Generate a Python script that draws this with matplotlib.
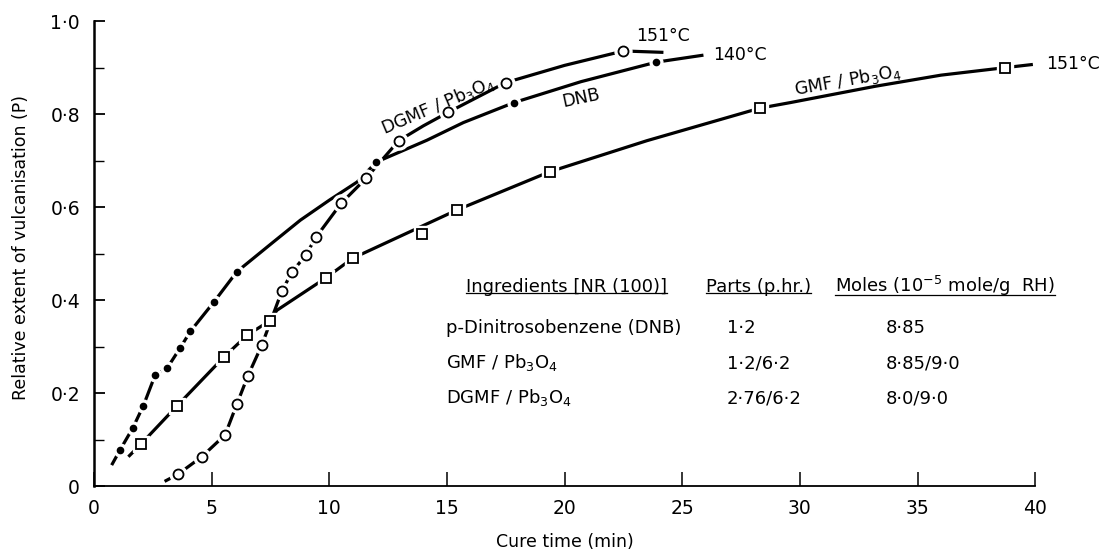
import numpy as np
import matplotlib
matplotlib.use('Agg')
import matplotlib.pyplot as plt
from matplotlib.ticker import MultipleLocator, FuncFormatter
from matplotlib.lines import Line2D

plt.rcParams['font.family'] = ['DejaVu Sans']
plt.rcParams['mathtext.default'] = 'regular'

#------------------------------------------------------------------------------#
# values

# p-dinitrosobenzene, 140 C (filled dots)
dnb_x = [1.1, 1.65, 2.1, 2.6, 3.1, 3.66, 4.1, 5.08, 6.07, 12.0, 17.85, 23.9]
dnb_y = [0.077, 0.125, 0.173, 0.239, 0.253, 0.297, 0.333, 0.395, 0.461, 0.697, 0.825, 0.912]
dnb_line_x = [0.75, 1.1, 1.65, 2.1, 2.6, 3.1, 3.66, 4.1, 5.08, 6.07, 7.5, 8.77, 10.0,
              11.18, 12.0, 14.15, 15.7, 17.85, 20.7, 23.9, 25.9]
dnb_line_y = [0.045, 0.077, 0.125, 0.173, 0.239, 0.253, 0.297, 0.333, 0.395, 0.461, 0.52,
              0.572, 0.615, 0.654, 0.697, 0.744, 0.782, 0.825, 0.87, 0.912, 0.927]

# DGMF / Pb3O4, 151 C (open circles)
dgmf_x = [3.56, 4.58, 5.57, 6.07, 6.54, 7.13, 7.98, 8.41, 9.0, 9.43, 10.5, 11.56,
          12.95, 15.05, 17.5, 22.5]
dgmf_y = [0.025, 0.063, 0.11, 0.176, 0.237, 0.303, 0.419, 0.46, 0.497, 0.535, 0.608,
          0.662, 0.743, 0.804, 0.868, 0.936]
dgmf_line_x = [3.0, 3.56, 4.58, 5.57, 6.07, 6.54, 7.13, 7.98, 8.41, 9.0, 9.43, 10.5,
               11.56, 12.95, 14.0, 15.05, 17.5, 20.0, 22.5, 24.2]
dgmf_line_y = [0.01, 0.025, 0.063, 0.11, 0.176, 0.237, 0.303, 0.419, 0.46, 0.497, 0.535,
               0.608, 0.662, 0.743, 0.775, 0.804, 0.868, 0.905, 0.936, 0.933]

# GMF / Pb3O4, 151 C (open squares)
gmf_x = [1.99, 3.52, 5.53, 6.52, 7.49, 9.86, 10.99, 13.94, 15.43, 19.36, 28.3, 38.7]
gmf_y = [0.09, 0.172, 0.278, 0.325, 0.356, 0.448, 0.49, 0.543, 0.594, 0.676, 0.813, 0.9]
gmf_line_x = [1.46, 1.99, 3.52, 5.53, 6.52, 7.49, 7.77, 9.86, 10.99, 15.43, 19.36,
              23.5, 28.3, 29.6, 33.2, 36.0, 38.7, 39.9]
gmf_line_y = [0.063, 0.09, 0.172, 0.278, 0.325, 0.356, 0.378, 0.448, 0.49, 0.594, 0.676,
              0.743, 0.813, 0.825, 0.86, 0.884, 0.9, 0.907]

# inset table
tab_header = ['Ingredients [NR (100)]', 'Parts (p.hr.)', 'Moles (10$^{-5}$ mole/g  RH)']
tab_names = ['p-Dinitrosobenzene (DNB)', 'GMF / Pb$_3$O$_4$', 'DGMF / Pb$_3$O$_4$']
tab_parts = ['1·2', '1·2/6·2', '2·76/6·2']
tab_moles = ['8·85', '8·85/9·0', '8·0/9·0']

#------------------------------------------------------------------------------#

fig = plt.figure(figsize=(11.06, 5.54), dpi=100)
ax = fig.add_axes([0.085, 0.1227, 0.851, 0.839])

def draw_series(lx, ly, mx, my, marker, ms, filled):
    ax.plot(lx, ly, color='black', lw=2.3, solid_capstyle='butt', zorder=2)
    # white halo leaves the little gap round each marker
    ax.plot(mx, my, ls='none', marker=marker, ms=ms + 5, mfc='white',
            mec='white', zorder=3)
    ax.plot(mx, my, ls='none', marker=marker, ms=ms,
            mfc='black' if filled else 'white', mec='black', mew=1.3, zorder=4)

draw_series(dnb_line_x, dnb_line_y, dnb_x, dnb_y, 'o', 4.2, True)
draw_series(gmf_line_x, gmf_line_y, gmf_x, gmf_y, 's', 6.5, False)
draw_series(dgmf_line_x, dgmf_line_y, dgmf_x, dgmf_y, 'o', 7.2, False)

ax.set_xlim(0, 40)
ax.set_ylim(0, 1.0)
for s in ['top', 'right']:
    ax.spines[s].set_visible(False)
ax.spines['left'].set_linewidth(1.8)
ax.spines['bottom'].set_linewidth(1.3)

ax.xaxis.set_major_locator(MultipleLocator(5))
ax.yaxis.set_major_locator(MultipleLocator(0.2))
ax.yaxis.set_minor_locator(MultipleLocator(0.1))
ax.tick_params(axis='x', which='major', direction='in', length=10, width=1.1,
               labelsize=13.5, pad=9)
ax.tick_params(axis='y', which='major', direction='in', length=8, width=1.3,
               labelsize=13.5, pad=10)
ax.tick_params(axis='y', which='minor', direction='in', length=7, width=1.0)

fmt = lambda v, pos: '0' if abs(v) < 1e-9 else ('%.1f' % v).replace('.', '·')
ax.yaxis.set_major_formatter(FuncFormatter(fmt))
ax.xaxis.set_major_formatter(FuncFormatter(lambda v, pos: '%d' % v))

ax.set_xlabel('Cure time (min)', fontsize=12.5)
ax.set_ylabel('Relative extent of vulcanisation (P)', fontsize=12.5)
ax.xaxis.set_label_coords(0.5, -0.1)
ax.yaxis.set_label_coords(-0.068, 0.514)

#------------------------------------------------------------------------------#
# curve labels

ax.text(14.6, 0.818, 'DGMF / Pb$_3$O$_4$', rotation=23, ha='center', va='center',
        fontsize=12.5)
ax.text(20.7, 0.835, 'DNB', rotation=12, ha='center', va='center', fontsize=12.5)
ax.text(32.0, 0.873, 'GMF / Pb$_3$O$_4$', rotation=10, ha='center', va='center',
        fontsize=12.5)
ax.text(24.2, 0.968, '151°C', ha='center', va='center', fontsize=12.5)
ax.text(26.3, 0.927, '140°C', ha='left', va='center', fontsize=12.5)
ax.text(40.45, 0.909, '151°C', ha='left', va='center', fontsize=12.5, clip_on=False)

#------------------------------------------------------------------------------#
# inset table

hdr = []
hdr.append(ax.text(15.8, 0.418, tab_header[0], fontsize=13, va='baseline'))
hdr.append(ax.text(26.0, 0.418, tab_header[1], fontsize=13, va='baseline'))
hdr.append(ax.text(31.5, 0.418, tab_header[2], fontsize=13, va='baseline'))

row_y = [0.33, 0.253, 0.178]
for i, yy in enumerate(row_y):
    ax.text(14.94, yy, tab_names[i], fontsize=13, va='baseline')
    ax.text(26.9, yy, tab_parts[i], fontsize=13, va='baseline')
    ax.text(33.66, yy, tab_moles[i], fontsize=13, va='baseline')

fig.canvas.draw()
inv = fig.transFigure.inverted()
for t in hdr:
    bb = t.get_window_extent()
    (x0, y0), (x1, _) = inv.transform([(bb.x0, bb.y0 + 3), (bb.x1, bb.y0 + 3)])
    fig.add_artist(Line2D([x0, x1], [y0, y0], color='black', lw=0.9,
                          transform=fig.transFigure))

fig.savefig('out.png', dpi=100)
